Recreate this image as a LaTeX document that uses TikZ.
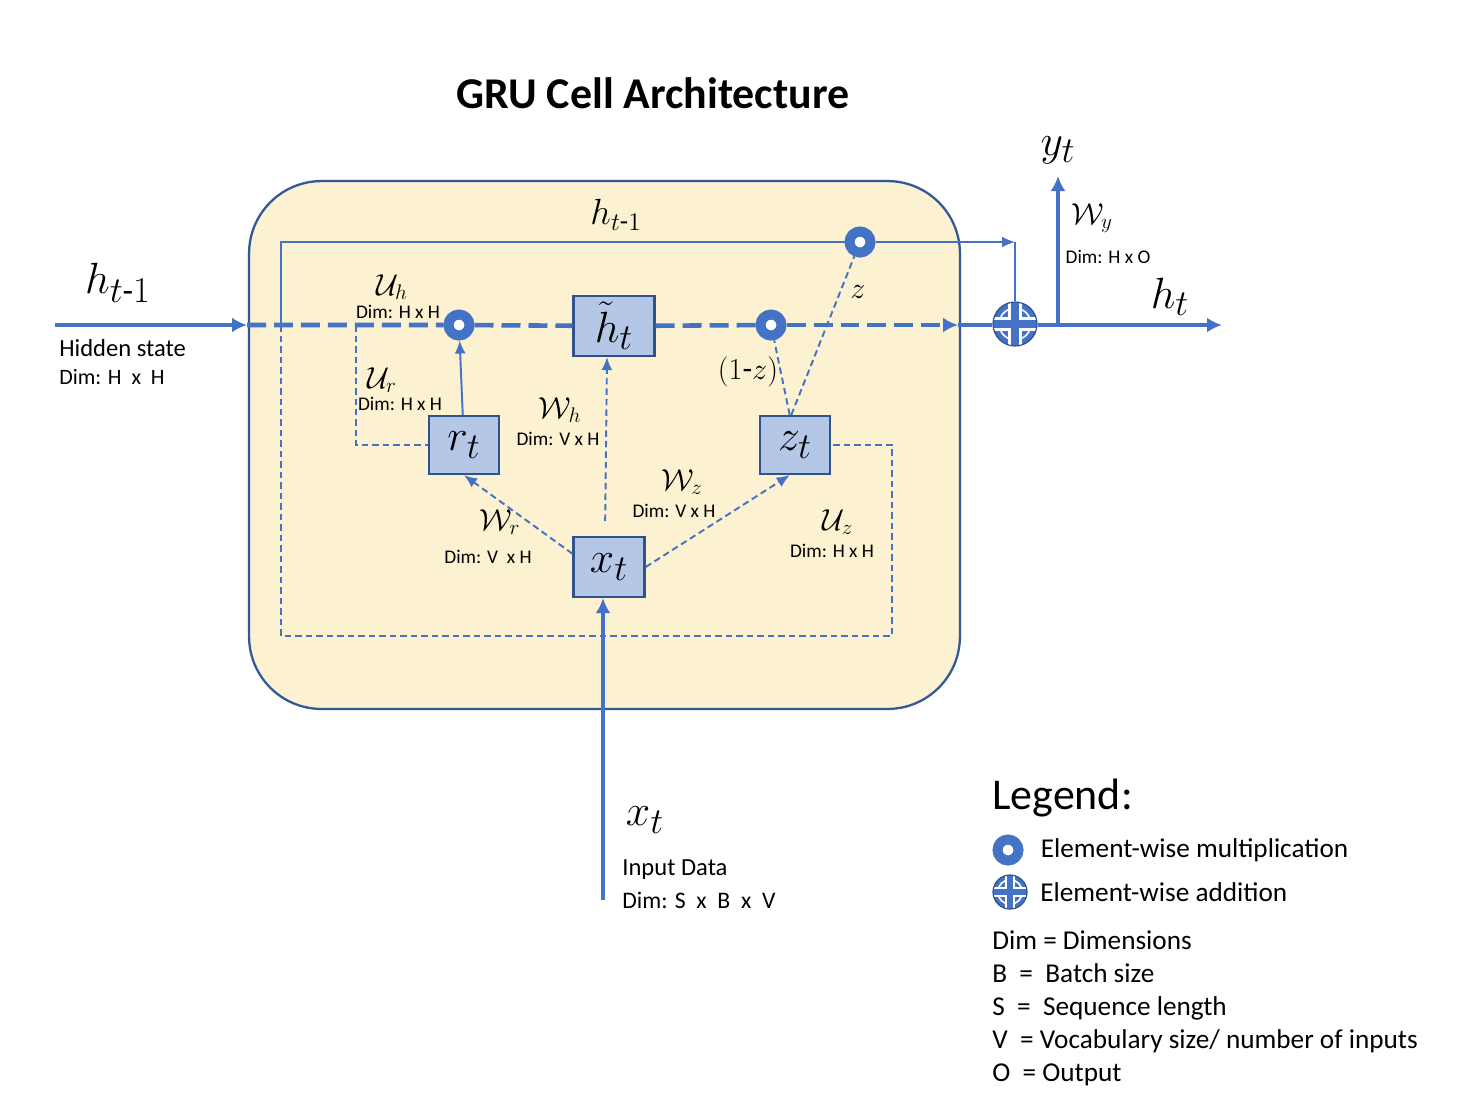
\documentclass[tikz,border=0pt]{standalone}
\usepackage{amsmath}
\usepackage{fontspec}
\setmainfont{Carlito}
\usetikzlibrary{arrows.meta,positioning}
\definecolor{steel}{HTML}{4472C4}
\definecolor{navy}{HTML}{2F528F}
\definecolor{pale}{HTML}{B4C7E7}
\definecolor{cream}{HTML}{FCF1D0}

\begin{document}
\begin{tikzpicture}[x=0.02cm,y=-0.02cm,
  cellbox/.style={draw=navy!80!steel,fill=cream,line width=1.3pt,rounded corners=1.45cm,
    minimum width=14.22cm,minimum height=10.56cm},
  gate/.style={draw=navy,fill=pale,line width=1.3pt,minimum width=1.4cm,minimum height=1.16cm,
    inner sep=0pt,font=\fontsize{28}{30}\selectfont},
  mulop/.style={circle,draw=steel,line width=0.2cm,fill=white,minimum size=0.42cm,inner sep=0pt},
  plusop/.style={circle,draw=navy,fill=steel,line width=0.7pt,minimum size=#1,inner sep=0pt,
    path picture={
      \draw[white,line width=0.9pt] (path picture bounding box.center) circle [radius=0.36*#1];
      \draw[white,line width=0.3*#1] (path picture bounding box.west) -- (path picture bounding box.east)
        (path picture bounding box.north) -- (path picture bounding box.south);
      \draw[steel,line width=0.2*#1] (path picture bounding box.west) -- (path picture bounding box.east)
        (path picture bounding box.north) -- (path picture bounding box.south);}},
  plusop/.default=0.88cm,
  flow/.style={steel,line width=2.6pt},
  flowarrow/.style={flow,-{Latex[length=0.3cm,width=0.3cm]}},
  dashflow/.style={flow,dash pattern=on 0.38cm off 0.16cm},
  link/.style={steel,line width=1.1pt},
  linkarrow/.style={link,-{Latex[length=0.26cm,width=0.22cm]}},
  dashlink/.style={link,dash pattern=on 0.13cm off 0.08cm},
  dashlinkarrow/.style={dashlink,-{Latex[length=0.26cm,width=0.22cm]}},
  dim/.style={font=\fontsize{11}{12}\selectfont,inner sep=0pt},
  weight/.style={font=\fontsize{18}{20}\selectfont,inner sep=0pt},
  bigmath/.style={font=\fontsize{28}{30}\selectfont,inner sep=0pt},
  note/.style={font=\fontsize{14}{16}\selectfont,anchor=west,inner sep=0pt},
  legtext/.style={font=\fontsize{15.5}{18.8}\selectfont,anchor=west,inner sep=0pt}]
\useasboundingbox (0,0) rectangle (1462,1100);

\node[font=\fontsize{25}{30}\bfseries\selectfont] (title) at (653,93) {GRU Cell Architecture};

% the cell and its gates
\node[cellbox] (cell) at (604.5,445) {};
\node[gate,minimum width=1.62cm,minimum height=1.2cm] (htilde) at (614,326) {$\tilde{h}_t$};
\node[gate] (rt) at (464,445) {$r_t$};
\node[gate] (zt) at (795,445) {$z_t$};
\node[gate,minimum width=1.42cm,minimum height=1.2cm] (xt) at (609,567) {$x_t$};
\node[mulop] (mulh) at (459,325) {};
\node[mulop] (mulz) at (771,325) {};
\node[mulop] (multop) at (860,242) {};
\node[plusop] (addh) at (1015,324) {};

\coordinate (hin) at (55,325);
\coordinate (cellw) at (247,325);
\coordinate (celle) at (958,325);
\coordinate (tl) at (281,325);
\coordinate (ur) at (356,325);
\coordinate (topend) at (1015,242);
\coordinate (uzc) at (892,636);
\coordinate (hout) at (1222,325);
\coordinate (yfoot) at (1058,325);
\coordinate (ytop) at (1058,176);
\coordinate (xin) at (603,900);

% main flow
\draw[flowarrow] (hin) -- (cellw);
\draw[dashflow] (cellw) -- (mulh) (mulh) -- (htilde) (htilde) -- (mulz);
\draw[dashflow,-{Latex[length=0.3cm,width=0.3cm]}] (mulz) -- (celle);
\draw[flow] (celle) -- (addh.west |- celle);
\draw[flowarrow] (addh.east |- hout) -- (hout);
\draw[flowarrow] (yfoot) -- (ytop);
\draw[flowarrow] (xin) -- (xin |- xt.south);

% h_{t-1} bypass
\draw[link] (tl) |- (multop);
\draw[linkarrow] (multop) -- (topend);
\draw[link] (topend) -- (addh);

% gate links
\draw[dashlink] (tl) |- (uzc) |- (zt);
\draw[dashlink] (ur) |- (rt);
\draw[linkarrow] (rt) -- (mulh);
\draw[dashlinkarrow] (xt.160) -- (rt.south);
\draw[dashlinkarrow] (xt.east) -- (zt.-100);
\draw[dashlinkarrow,shorten <=0.3cm] ([xshift=-0.08cm]xt.north) -- ([xshift=-0.14cm]htilde.south);
\draw[dashlink] (zt.100) -- (mulz);
\draw[dashlink] (zt.97) -- (multop);

% labels
\node[bigmath] (hinlabel) at (118,283) {$h_{t\text{-}1}$};
\node[font=\fontsize{14}{16}\selectfont,anchor=west,inner sep=0pt] (hidden) at (59,348) {Hidden state};
\node[font=\fontsize{12.5}{14}\selectfont,anchor=west,inner sep=0pt] (hiddendim) at (59,377) {Dim: H\ \ x\ \ H};
\node[font=\fontsize{22}{24}\selectfont,inner sep=0pt] (toplabel) at (616,215) {$h_{t\text{-}1}$};
\node[weight] (uhlabel) at (392,287) {$\mathcal{U}_h$};
\node[dim] (uhdim) at (398,312) {Dim: H x H};
\node[weight] (urlabel) at (382,380) {$\mathcal{U}_r$};
\node[dim] (urdim) at (400,404) {Dim: H x H};
\node[weight] (whlabel) at (560,410) {$\mathcal{W}_h$};
\node[dim] (whdim) at (558,439) {Dim: V x H};
\node[weight] (wrlabel) at (500,522) {$\mathcal{W}_r$};
\node[dim] (wrdim) at (488,557) {Dim: V\ \ x H};
\node[weight] (wzlabel) at (682,482) {$\mathcal{W}_z$};
\node[dim] (wzdim) at (674,511) {Dim: V x H};
\node[weight] (uzlabel) at (838,522) {$\mathcal{U}_z$};
\node[dim] (uzdim) at (832,551) {Dim: H x H};
\node[weight] (onelabel) at (748,372) {$(1\text{-}z)$};
\node[weight] (zlabel) at (858,292) {$z$};
\node[bigmath] (ylabel) at (1058,150) {$y_t$};
\node[weight] (wylabel) at (1092,218) {$\mathcal{W}_y$};
\node[dim] (wydim) at (1108,257) {Dim: H x O};
\node[bigmath] (houtlabel) at (1170,297) {$h_t$};
\node[bigmath] (xinlabel) at (645,820) {$x_t$};
\node[note] (input) at (622,870) {Input Data};
\node[note,font=\fontsize{13.5}{15}\selectfont] (inputdim) at (622,900) {Dim: S\ \ x\ \ B\ \ x\ \ V};

% legend
\node[font=\fontsize{25}{30}\selectfont,anchor=west,inner sep=0pt] (legend) at (992,798) {Legend:};
\node[mulop] (legmul) at (1008,850) {};
\node[plusop=0.68cm] (legadd) at (1010,892) {};
\node[legtext,right=0.34cm of legmul] (legmultext) {Element-wise multiplication};
\node[legtext,anchor=west] (legaddtext) at (1040,892) {Element-wise addition};
\node[legtext,align=left,anchor=north west] (legdims) at (992,930) {Dim = Dimensions\\B\ \ =\ \ Batch size\\S\ \ =\ \ Sequence length\\V\ \ = Vocabulary size/ number of inputs\\O\ \ = Output};
\end{tikzpicture}
\end{document}
